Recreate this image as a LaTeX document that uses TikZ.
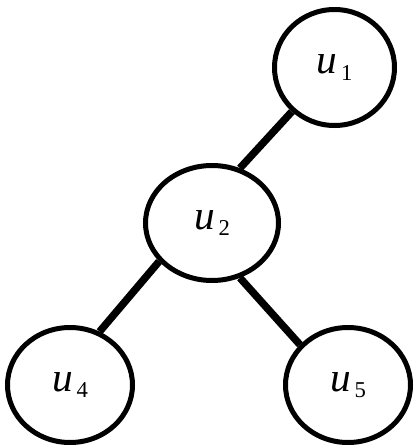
\documentclass[tikz,border=0pt]{standalone}
\usepackage{fontspec}
\setmainfont{Liberation Serif}
\usetikzlibrary{shapes.geometric}
\newcommand{\vlab}[1]{\raisebox{-4pt}{{\fontsize{31}{34}\selectfont\itshape u}\hspace{3pt}\raisebox{-5pt}{\fontsize{17}{20}\selectfont #1}}}
\tikzset{
  vert/.style={ellipse, draw=black, line width=3.75pt, fill=white, inner sep=0pt,
    minimum width=93.75pt, minimum height=86.25pt},
  edge/.style={line width=5.6pt, black}
}
\begin{document}
\begin{tikzpicture}[x=0.75pt,y=-0.75pt]
\useasboundingbox (0,0) rectangle (416,447);
\node[vert, minimum width=90pt, minimum height=87pt] (u1) at (334.5,67.5) {\vlab{1}};
\node[vert, minimum width=99.75pt] (u2) at (212,223) {\vlab{2}};
\node[vert] (u4) at (70,385) {\vlab{4}};
\node[vert] (u5) at (348,385) {\vlab{5}};
\draw[edge] (u1.226) -- (u2.63);
\draw[edge] (u2.216) -- (u4.61);
\draw[edge] (u2.297) -- (u5.140);
\end{tikzpicture}
\end{document}
